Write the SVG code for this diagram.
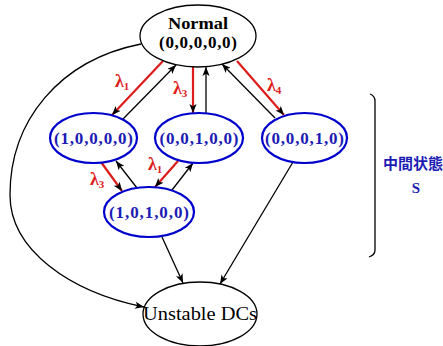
<svg xmlns="http://www.w3.org/2000/svg" width="443" height="346" viewBox="0 0 443 346">
  <style>
    .bg { fill: #ffffff; }
    .node-black { fill: #ffffff; stroke: #000000; stroke-width: 1.3; }
    .node-blue { fill: #ffffff; stroke: #0000cc; stroke-width: 2.2; }
    .lbl { font-family: "Liberation Serif", "Times New Roman", serif; font-weight: bold; font-size: 17px; text-anchor: middle; }
    .lbl-black { fill: #000000; }
    .lbl-blue { fill: #1c1cb4; }
    .lbl-plain { font-family: "Liberation Serif", "Times New Roman", serif; font-size: 19px; text-anchor: middle; fill: #000000; }
    .edge { fill: none; stroke: #000000; stroke-width: 1.3; marker-end: url(#arrow); }
    .edge-red { fill: none; stroke: #dd1c1c; stroke-width: 2.2; marker-end: url(#arrow); }
    .rate { font-family: "Liberation Serif", "Times New Roman", serif; font-weight: bold; font-size: 18px; fill: #dd1c1c; }
    .rate .sub { font-size: 11px; }
    .brace { fill: none; stroke: #000000; stroke-width: 1.3; }
    .group-title { font-family: "Noto Sans CJK JP", "Noto Sans CJK SC", sans-serif; font-size: 15px; font-weight: bold; fill: #1c1cb4; }
    .group-sym { font-family: "Liberation Serif", "Times New Roman", serif; font-weight: bold; font-size: 15px; fill: #1c1cb4; text-anchor: middle; }
  </style>
  <defs>
    <marker id="arrow" viewBox="0 0 10 8" refX="10" refY="4" markerWidth="9" markerHeight="7.2" markerUnits="userSpaceOnUse" orient="auto">
      <path d="M0,0 L10,4 L0,8 L2.5,4 z" fill="#000000"/>
    </marker>
  </defs>

  <rect class="bg" x="0" y="0" width="443" height="346"/>

  <!-- connectors -->
  <g id="connectors">
    <!-- Normal -> Unstable, long way round on the left -->
    <path class="edge" d="M141,44 C60,60 10,120 10,195 C10,250 70,292 144,307"/>

    <!-- Normal <-> (1,0,0,0,0) -->
    <line class="edge-red" x1="163" y1="61" x2="112" y2="115"/>
    <line class="edge" x1="123" y1="119" x2="176" y2="65"/>

    <!-- Normal <-> (0,0,1,0,0) -->
    <line class="edge-red" x1="193" y1="67" x2="193" y2="113"/>
    <line class="edge" x1="206" y1="113" x2="206" y2="67"/>

    <!-- Normal <-> (0,0,0,1,0) -->
    <line class="edge-red" x1="237" y1="61" x2="284" y2="115"/>
    <line class="edge" x1="275" y1="118" x2="222" y2="64"/>

    <!-- (1,0,0,0,0) <-> (1,0,1,0,0) -->
    <line class="edge-red" x1="101" y1="162" x2="122" y2="191"/>
    <line class="edge" x1="137" y1="188" x2="116" y2="161"/>

    <!-- (0,0,1,0,0) <-> (1,0,1,0,0) -->
    <line class="edge-red" x1="178" y1="161" x2="155" y2="187"/>
    <line class="edge" x1="172" y1="190" x2="193" y2="163"/>

    <!-- into Unstable DCs -->
    <line class="edge" x1="293" y1="162" x2="220" y2="284"/>
    <line class="edge" x1="162" y1="237" x2="183" y2="283"/>
  </g>

  <!-- rate labels -->
  <g id="rates">
    <text class="rate" x="115" y="87">λ<tspan class="sub" dy="3">1</tspan></text>
    <text class="rate" x="173" y="94">λ<tspan class="sub" dy="3">3</tspan></text>
    <text class="rate" x="267" y="91">λ<tspan class="sub" dy="3">4</tspan></text>
    <text class="rate" x="90" y="185">λ<tspan class="sub" dy="3">3</tspan></text>
    <text class="rate" x="148" y="170">λ<tspan class="sub" dy="3">1</tspan></text>
  </g>

  <!-- nodes -->
  <g id="node-normal">
    <ellipse class="node-black" cx="198" cy="36" rx="58" ry="31"/>
    <text class="lbl lbl-black" x="198" y="29" textLength="60" lengthAdjust="spacingAndGlyphs">Normal</text>
    <text class="lbl lbl-black" x="198" y="48" textLength="78">(0,0,0,0,0)</text>
  </g>

  <g id="node-10000">
    <ellipse class="node-blue" cx="93.5" cy="138" rx="43.5" ry="25"/>
    <text class="lbl lbl-blue" x="93.5" y="144" textLength="79">(1,0,0,0,0)</text>
  </g>

  <g id="node-00100">
    <ellipse class="node-blue" cx="199" cy="138" rx="44" ry="25"/>
    <text class="lbl lbl-blue" x="199" y="144" textLength="79">(0,0,1,0,0)</text>
  </g>

  <g id="node-00010">
    <ellipse class="node-blue" cx="304.5" cy="138" rx="42.5" ry="25"/>
    <text class="lbl lbl-blue" x="304.5" y="144" textLength="79">(0,0,0,1,0)</text>
  </g>

  <g id="node-10100">
    <ellipse class="node-blue" cx="149" cy="212" rx="45" ry="25"/>
    <text class="lbl lbl-blue" x="149" y="218" textLength="80">(1,0,1,0,0)</text>
  </g>

  <g id="node-unstable">
    <ellipse class="node-black" cx="200" cy="314" rx="57" ry="32"/>
    <text class="lbl-plain" x="200" y="320" textLength="114" lengthAdjust="spacingAndGlyphs">Unstable DCs</text>
  </g>

  <!-- bracket around the intermediate states -->
  <g id="group-bracket">
    <path class="brace" d="M370,94 Q375,96 375,101 L375,250 Q375,255 369,257"/>
    <text class="group-title" x="383" y="169">中間状態</text>
    <text class="group-sym" x="416" y="193">S</text>
  </g>
</svg>
